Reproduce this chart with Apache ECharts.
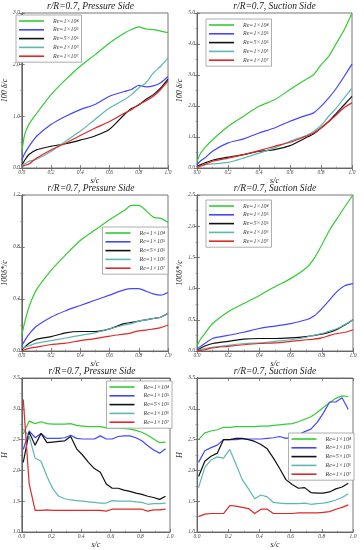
<!DOCTYPE html>
<html><head><meta charset="utf-8">
<script src="https://cdn.jsdelivr.net/npm/echarts@6/dist/echarts.min.js"></script>
<style>html,body{margin:0;padding:0;background:#fff}#c{width:364px;height:550px}</style>
</head><body><div id="c"></div>
<script>
// ---- data ----
const names = ['Re=1×10⁴','Re=1×10⁵','Re=5×10⁵','Re=1×10⁶','Re=1×10⁷'];
const colors = ['#33cc33','#4545ff','#111111','#5cb8b0','#e02828'];
const xs = [0,0.02,0.05,0.1,0.2,0.3,0.4,0.5,0.6,0.7,0.75,0.8,0.85,0.9,0.95,1.0];
const xh = [0.01,0.05,0.09,0.13,0.17,0.21,0.25,0.29,0.33,0.37,0.41,0.45,0.49,0.53,0.57,0.61,0.65,0.69,0.73,0.77,0.81,0.85,0.89,0.93,0.97];

// panel 1: 100 delta/c, pressure side
const p1_g = [0.3,0.65,0.85,1.05,1.42,1.71,1.97,2.19,2.42,2.61,2.68,2.73,2.69,2.68,2.65,2.62];
const p1_b = [0.15,0.28,0.42,0.61,0.84,1.0,1.13,1.23,1.39,1.48,1.52,1.6,1.57,1.59,1.65,1.77];
const p1_k = [0.05,0.15,0.26,0.35,0.42,0.47,0.54,0.62,0.75,1.03,1.15,1.22,1.33,1.42,1.55,1.72];
const p1_t = [0.05,0.08,0.13,0.17,0.32,0.52,0.71,0.94,1.16,1.32,1.42,1.55,1.65,1.84,1.97,2.13];
const p1_r = [0.03,0.05,0.08,0.19,0.35,0.48,0.63,0.77,0.9,1.06,1.13,1.23,1.3,1.39,1.52,1.68];
// panel 2: 100 delta/c, suction side
const p2_g = [0.2,0.45,0.65,0.91,1.34,1.67,1.99,2.2,2.53,2.85,3.0,3.33,3.6,4.03,4.46,5.0];
const p2_b = [0.1,0.22,0.32,0.54,0.81,0.94,1.13,1.29,1.51,1.69,1.77,1.99,2.26,2.58,2.96,3.35];
const p2_k = [0.03,0.1,0.16,0.25,0.35,0.43,0.54,0.59,0.72,0.97,1.1,1.29,1.5,1.77,2.04,2.31];
const p2_t = [0.02,0.06,0.11,0.13,0.18,0.32,0.48,0.65,0.86,1.04,1.17,1.37,1.67,1.94,2.26,2.58];
const p2_r = [0.02,0.06,0.11,0.22,0.32,0.43,0.56,0.7,0.83,1.02,1.12,1.29,1.5,1.72,1.95,2.1];
// panel 3: 100 delta*/c, pressure side
const p3_g = [0.12,0.22,0.34,0.47,0.62,0.74,0.85,0.93,1.01,1.08,1.12,1.12,1.08,1.03,1.02,0.99];
const p3_b = [0.04,0.08,0.13,0.19,0.26,0.31,0.35,0.39,0.43,0.47,0.48,0.48,0.46,0.44,0.43,0.45];
const p3_k = [0.01,0.03,0.06,0.09,0.11,0.14,0.15,0.15,0.17,0.21,0.22,0.23,0.24,0.25,0.26,0.29];
const p3_t = [0.02,0.03,0.04,0.06,0.08,0.1,0.12,0.14,0.17,0.2,0.21,0.23,0.24,0.25,0.26,0.29];
const p3_r = [0.0,0.01,0.02,0.03,0.05,0.06,0.08,0.095,0.115,0.13,0.14,0.155,0.16,0.17,0.18,0.2];
// panel 4: 100 delta*/c, suction side
const p4_g = [0.08,0.18,0.28,0.44,0.63,0.76,0.89,1.03,1.16,1.33,1.48,1.7,1.94,2.13,2.32,2.5];
const p4_b = [0.03,0.07,0.12,0.2,0.25,0.3,0.36,0.4,0.44,0.5,0.56,0.68,0.82,0.96,1.05,1.08];
const p4_k = [0.01,0.04,0.08,0.12,0.155,0.19,0.2,0.2,0.21,0.23,0.25,0.27,0.3,0.35,0.42,0.5];
const p4_t = [0.01,0.02,0.04,0.06,0.09,0.12,0.13,0.155,0.18,0.22,0.25,0.28,0.32,0.36,0.43,0.5];
const p4_r = [0,0.01,0.02,0.05,0.075,0.1,0.12,0.13,0.155,0.18,0.19,0.21,0.25,0.28,0.3,0.34];
// panel 5: H, pressure side
const p5_g = [2.59,2.8,2.76,2.79,2.76,2.75,2.75,2.75,2.76,2.73,2.72,2.71,2.71,2.71,2.69,2.69,2.69,2.68,2.67,2.65,2.62,2.57,2.51,2.45,2.46];
const p5_b = [2.34,2.64,2.53,2.6,2.52,2.52,2.52,2.53,2.57,2.52,2.51,2.51,2.51,2.56,2.51,2.51,2.55,2.56,2.56,2.53,2.48,2.4,2.33,2.28,2.35];
const p5_k = [2.13,2.62,2.41,2.6,2.45,2.46,2.47,2.48,2.55,2.35,2.25,2.13,2.03,1.97,1.78,1.71,1.71,1.68,1.66,1.63,1.61,1.58,1.56,1.53,1.58];
const p5_t = [2.67,2.55,2.2,2.15,1.9,1.7,1.58,1.54,1.52,1.51,1.5,1.49,1.48,1.47,1.47,1.51,1.5,1.5,1.5,1.49,1.48,1.45,1.46,1.46,1.47];
const p5_r = [3.15,1.78,1.35,1.35,1.36,1.35,1.35,1.35,1.35,1.35,1.35,1.35,1.35,1.35,1.34,1.37,1.37,1.37,1.37,1.37,1.37,1.34,1.36,1.36,1.37];
// panel 6: H, suction side
const p6_g = [2.5,2.61,2.64,2.66,2.7,2.7,2.71,2.71,2.71,2.71,2.72,2.72,2.73,2.74,2.75,2.76,2.79,2.83,2.87,2.94,3.02,3.1,3.17,3.21,3.2];
const p6_b = [2.13,2.32,2.37,2.41,2.5,2.5,2.5,2.51,2.51,2.51,2.51,2.52,2.53,2.55,2.52,2.54,2.58,2.63,2.67,2.78,2.93,3.11,3.11,3.18,2.99];
const p6_k = [1.9,2.15,2.23,2.28,2.5,2.5,2.52,2.52,2.5,2.47,2.42,2.35,2.2,2.03,1.85,1.77,1.71,1.72,1.64,1.63,1.63,1.65,1.7,1.73,1.79];
const p6_t = [1.72,2.05,2.17,2.22,2.2,2.34,2.1,1.85,1.7,1.54,1.6,1.57,1.48,1.47,1.46,1.46,1.46,1.47,1.45,1.46,1.47,1.49,1.52,1.56,1.62];
const p6_r = [1.25,1.29,1.3,1.3,1.3,1.43,1.42,1.4,1.38,1.3,1.37,1.37,1.3,1.3,1.3,1.3,1.31,1.31,1.31,1.31,1.32,1.33,1.37,1.4,1.44];

const titles = ['r/R=0.7, Pressure Side','r/R=0.7, Suction Side','r/R=0.7, Pressure Side','r/R=0.7, Suction Side','r/R=0.7, Pressure Side','r/R=0.7, Suction Side'];
const yNames = ['100 δ/c','100 δ/c','100δ*/c','100δ*/c','H','H'];
const yMin = [0,0,0,0,1,1];
const yMax = [3,5,1.2,2.5,3.5,3.5];
const yInt = [1,1,0.4,0.5,0.5,0.5];

// ---- layout ----
const panels = [
  {x: xs, ys:[p1_g,p1_b,p1_k,p1_t,p1_r], grid:{left:13,top:13,width:155,height:155}, legend:{left:16,top:15}},
  {x: xs, ys:[p2_g,p2_b,p2_k,p2_t,p2_r], grid:{left:197,top:13,width:155,height:155}, legend:{left:206,top:19}},
  {x: xs, ys:[p3_g,p3_b,p3_k,p3_t,p3_r], grid:{left:14,top:195,width:154,height:156}, legend:{right:196,top:227}},
  {x: xs, ys:[p4_g,p4_b,p4_k,p4_t,p4_r], grid:{left:197,top:195,width:156,height:156}, legend:{left:206,top:200}},
  {x: xh, ys:[p5_g,p5_b,p5_k,p5_t,p5_r], grid:{left:14,top:378,width:156,height:155}, legend:{right:192,top:381}},
  {x: xh, ys:[p6_g,p6_b,p6_k,p6_t,p6_r], grid:{left:197,top:378,width:156,height:155}, legend:{right:10,top:433}}
];

const FONT = '"Liberation Serif", "DejaVu Serif", serif';
const option = {animation:false, backgroundColor:'#fff', grid:[], xAxis:[], yAxis:[], series:[], title:[], legend:[]};
panels.forEach((p, i) => {
  option.grid.push(Object.assign({show:true, borderColor:'#777', borderWidth:1}, p.grid));
  const g = p.grid;
  option.title.push({text: titles[i], left: g.left + g.width/2, top: g.top - 12, textAlign:'center', padding:0,
    textStyle:{fontFamily:FONT, fontStyle:'italic', fontWeight:'normal', fontSize:9.5, color:'#222'}});
  const tickStyle = {show:true, inside:true, length:3, lineStyle:{color:'#666', width:0.8}};
  const minor = {show:true, splitNumber:2, length:1.5, lineStyle:{color:'#777', width:0.6}};
  option.xAxis.push({type:'value', gridIndex:i, min:0, max:1, interval:0.2, position:'bottom',
    name:'s/c', nameLocation:'middle', nameGap:9,
    nameTextStyle:{fontFamily:FONT, fontStyle:'italic', fontSize:8, color:'#222'},
    axisLine:{show:true, lineStyle:{color:'#666', width:1}}, axisTick:tickStyle, minorTick:minor,
    splitLine:{show:false},
    axisLabel:{fontFamily:FONT, fontStyle:'italic', fontSize:5.5, color:'#444', margin:2, formatter:v=>v.toFixed(1)}});
  option.xAxis.push({type:'value', gridIndex:i, min:0, max:1, interval:0.2, position:'top',
    axisLine:{show:true, lineStyle:{color:'#666', width:1}}, axisTick:tickStyle, minorTick:minor,
    splitLine:{show:false}, axisLabel:{show:false}});
  option.yAxis.push({type:'value', gridIndex:i, min:yMin[i], max:yMax[i], interval:yInt[i], position:'left',
    name:yNames[i], nameLocation:'middle', nameGap:5, nameRotate:90,
    nameTextStyle:{fontFamily:FONT, fontStyle:'italic', fontSize:8, color:'#222'},
    axisLine:{show:true, lineStyle:{color:'#666', width:1}}, axisTick:tickStyle, minorTick:minor,
    splitLine:{show:false},
    axisLabel:{fontFamily:FONT, fontStyle:'italic', fontSize:5.5, color:'#444', margin:2, formatter:v=>v.toFixed(1)}});
  option.yAxis.push({type:'value', gridIndex:i, min:yMin[i], max:yMax[i], interval:yInt[i], position:'right',
    axisLine:{show:true, lineStyle:{color:'#666', width:1}}, axisTick:tickStyle, minorTick:minor,
    splitLine:{show:false}, axisLabel:{show:false}});
  p.ys.forEach((ys, k) => {
    option.series.push({type:'line', name:names[k], xAxisIndex:2*i, yAxisIndex:2*i,
      data: p.x.map((x, j) => [x, ys[j]]), showSymbol:false, symbol:'none',
      smooth: i < 4 ? 0.25 : false,
      lineStyle:{color:colors[k], width:1.2}, itemStyle:{color:colors[k]}, z:2});
  });
  option.legend.push(Object.assign({data:names, orient:'vertical',
    icon:'rect', itemWidth:25, itemHeight:1.6, itemGap:2.8, padding:[3,3,3,3],
    backgroundColor:'#fff', borderColor:'#999', borderWidth:0.8, z:10,
    textStyle:{fontFamily:FONT, fontStyle:'italic', fontSize:6, color:'#444', padding:[0,0,0,4]}}, p.legend));
});
option.color = colors;
const chart = echarts.init(document.getElementById('c'), null, {renderer:'canvas'});
chart.setOption(option);
</script></body></html>
